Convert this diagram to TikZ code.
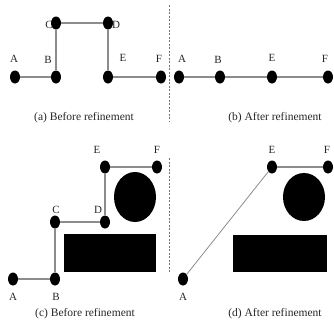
\documentclass[tikz,border=0pt]{standalone}
\usepackage{fontspec}
\setmainfont{Liberation Serif}
\usetikzlibrary{shapes.geometric}
\begin{document}
\begin{tikzpicture}[x=1pt,y=-1pt,
  dot/.style={ellipse,fill=black,draw=none,minimum width=10pt,minimum height=13pt,inner sep=0pt},
  lbl/.style={font=\fontsize{11}{12}\selectfont,text=black!85,inner sep=0pt},
  captext/.style={font=\fontsize{11.5}{13}\selectfont,text=black!85,inner sep=0pt},
  link/.style={draw=black!45,line width=1.1pt},
  sepline/.style={draw=black!55,line width=1pt,dash pattern=on 2pt off 1.5pt},
  obst/.style={fill=black,draw=none}]
\useasboundingbox (0,0) rectangle (334,335);
% separators
\coordinate (s1) at (169,5);
\coordinate (s2) at (169,122);
\coordinate (s3) at (169,158);
\coordinate (s4) at (169,273);
\draw[sepline] (s1) -- (s2);
\draw[sepline] (s3) -- (s4);
% (a)
\node[dot] (aA) at (15,77) {};
\node[dot] (aB) at (56,77) {};
\node[dot] (aC) at (56,23) {};
\node[dot] (aD) at (108,23) {};
\node[dot] (aE) at (108,77) {};
\node[dot] (aF) at (161,77) {};
\draw[link] (aA) -- (aB) -- (aC) -- (aD) -- (aE) -- (aF);
\node[lbl] (laA) at (14,59) {A};
\node[lbl] (laB) at (48,60) {B};
\node[lbl] (laC) at (49,25) {C};
\node[lbl] (laD) at (116,25) {D};
\node[lbl] (laE) at (123,58) {E};
\node[lbl] (laF) at (159,59) {F};
\node[captext] (capa) at (84,118) {(a) Before refinement};
% (b)
\node[dot] (bA) at (179,77) {};
\node[dot] (bB) at (220,77) {};
\node[dot] (bE) at (272,77) {};
\node[dot] (bF) at (328,77) {};
\draw[link] (bA) -- (bB) -- (bE) -- (bF);
\node[lbl] (lbA) at (182,59) {A};
\node[lbl] (lbB) at (218,60) {B};
\node[lbl] (lbE) at (272,58) {E};
\node[lbl] (lbF) at (325,59) {F};
\node[captext] (capb) at (275,118) {(b) After refinement};
% (c)
\node[obst,ellipse,minimum width=42pt,minimum height=50pt,inner sep=0pt] (cO) at (135,197) {};
\node[obst,rectangle,minimum width=92pt,minimum height=38pt,inner sep=0pt] (cR) at (110,253) {};
\node[dot] (cA) at (13,279) {};
\node[dot] (cB) at (55,279) {};
\node[dot] (cC) at (55,222) {};
\node[dot] (cD) at (105,222) {};
\node[dot] (cE) at (105,167) {};
\node[dot] (cF) at (157,167) {};
\draw[link] (cA) -- (cB) -- (cC) -- (cD) -- (cE) -- (cF);
\node[lbl] (lcA) at (13,297) {A};
\node[lbl] (lcB) at (56,297) {B};
\node[lbl] (lcC) at (56,210) {C};
\node[lbl] (lcD) at (98,210) {D};
\node[lbl] (lcE) at (97,150) {E};
\node[lbl] (lcF) at (157,150) {F};
\node[captext] (capc) at (85,314) {(c) Before refinement};
% (d)
\node[obst,ellipse,minimum width=42pt,minimum height=48pt,inner sep=0pt] (dO) at (304,197) {};
\node[obst,rectangle,minimum width=94pt,minimum height=37pt,inner sep=0pt] (dR) at (280,253.5) {};
\node[dot] (dA) at (183,279) {};
\node[dot] (dE) at (272,167) {};
\node[dot] (dF) at (328,167) {};
\draw[link,line width=0.8pt] (dA) -- (dE);
\draw[link] (dE) -- (dF);
\node[lbl] (ldA) at (183,297) {A};
\node[lbl] (ldE) at (272,150) {E};
\node[lbl] (ldF) at (327,150) {F};
\node[captext] (capd) at (275,314) {(d) After refinement};
\end{tikzpicture}
\end{document}
